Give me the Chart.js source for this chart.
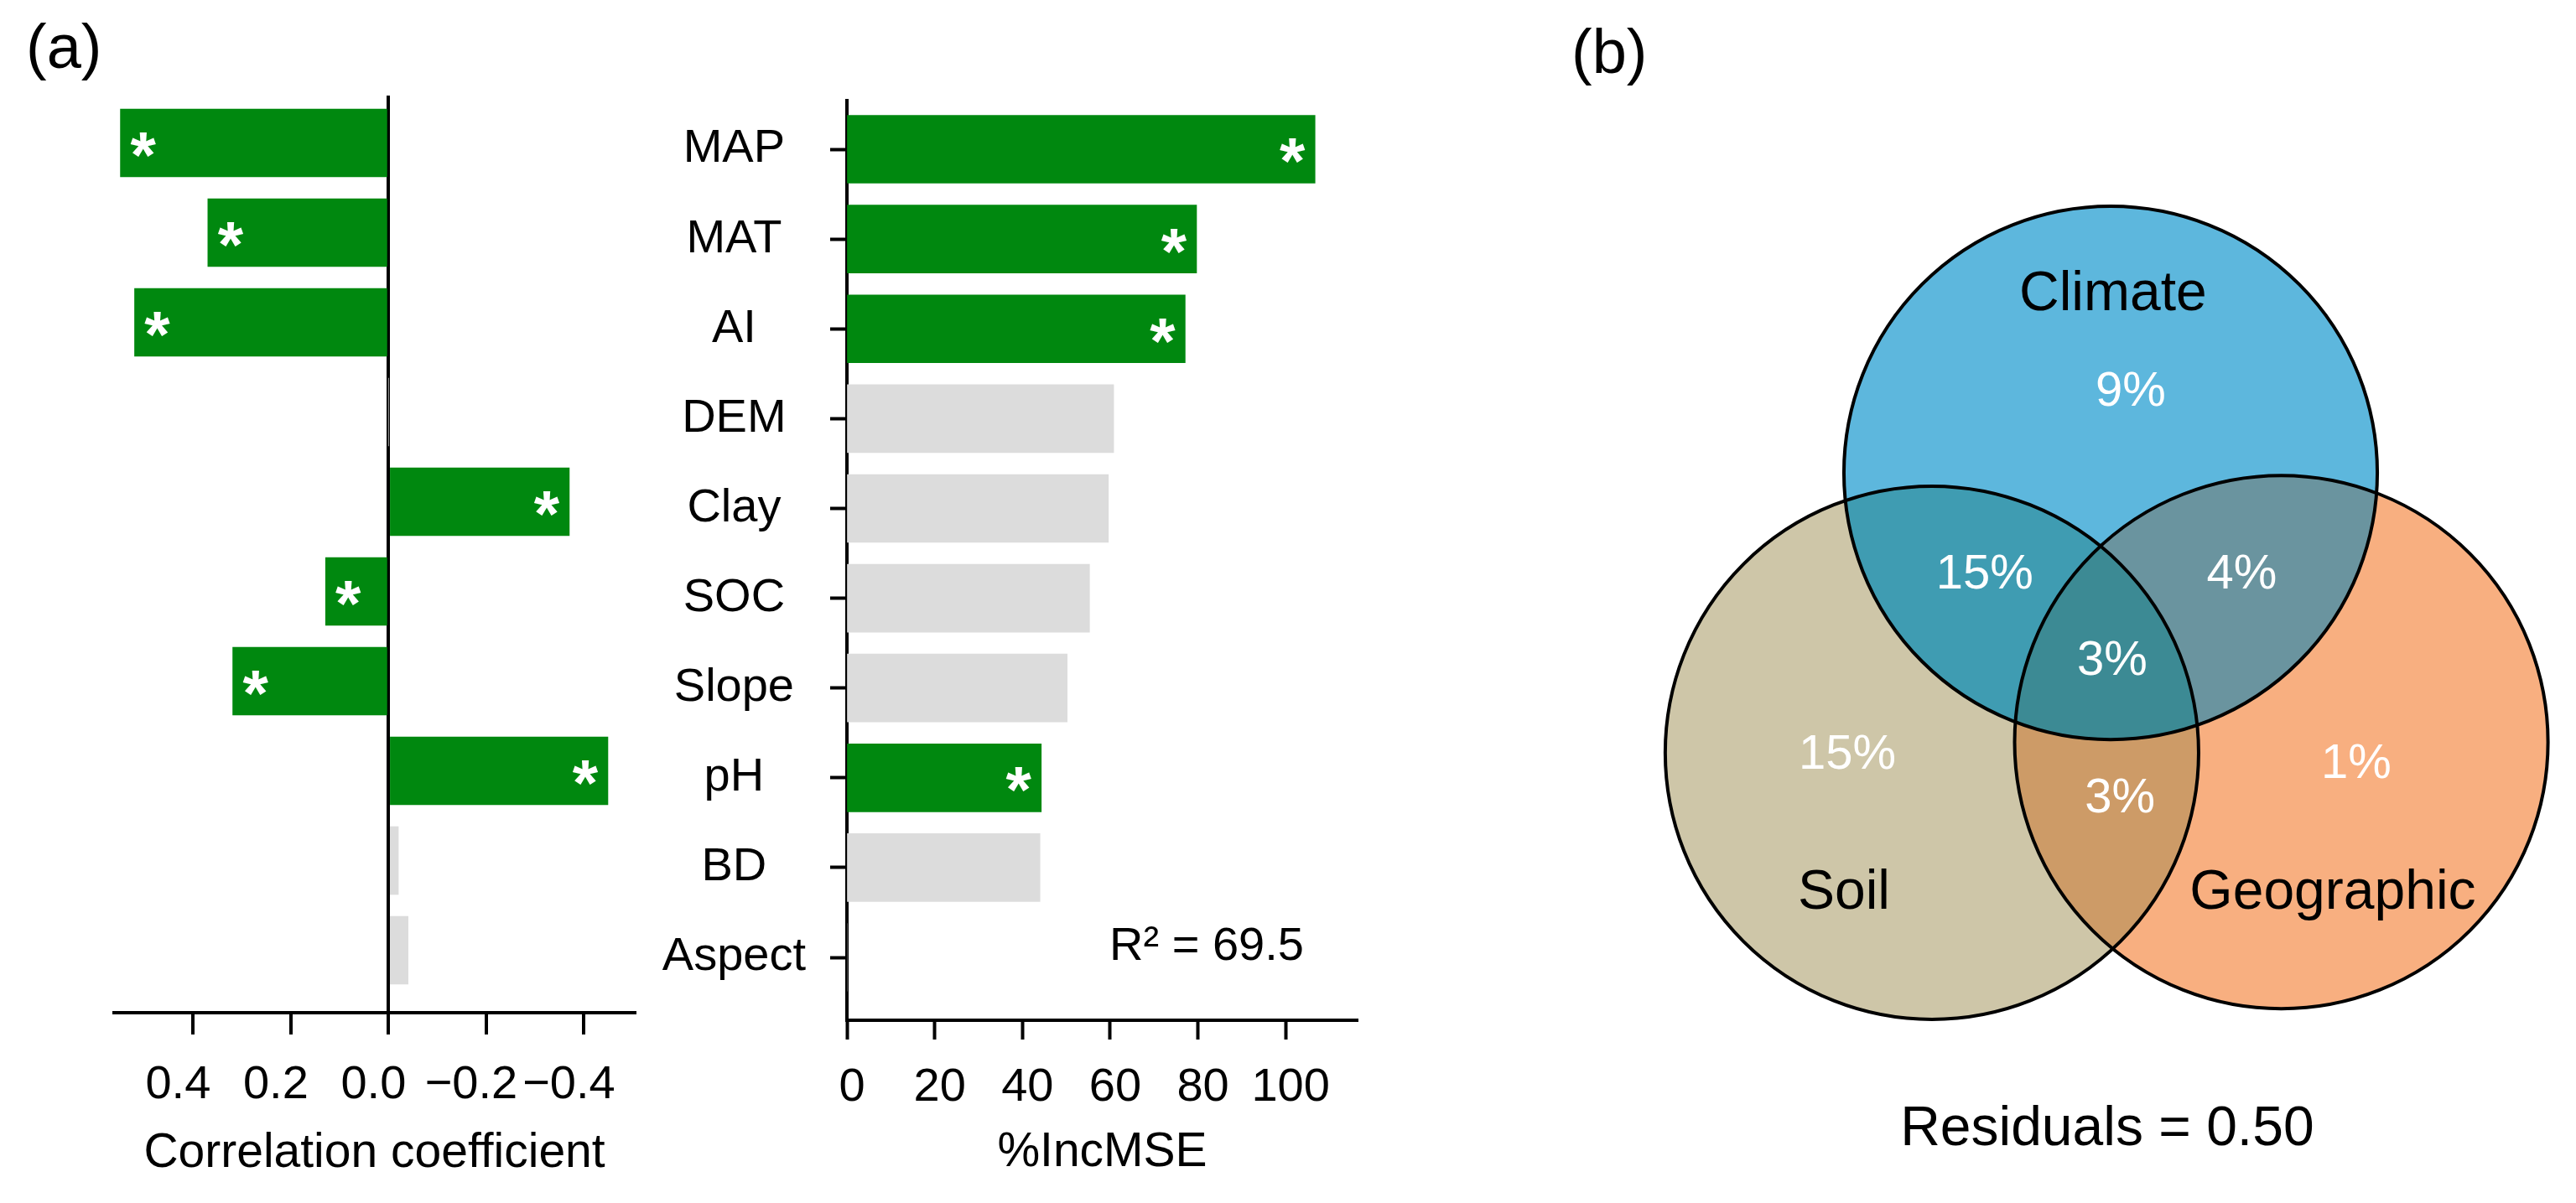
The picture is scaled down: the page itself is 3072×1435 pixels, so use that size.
<!DOCTYPE html>
<html>
<head>
<meta charset="utf-8">
<title>Correlation, %IncMSE and variance partitioning</title>
<script src="https://cdn.jsdelivr.net/npm/chart.js@4.4.1/dist/chart.umd.min.js"></script>
<style>
  html, body { margin: 0; padding: 0; background: #fff; }
  #page { position: relative; width: 3072px; height: 1435px; overflow: hidden;
          font-family: "Liberation Sans", Arial, sans-serif; }
  canvas { position: absolute; top: 0; }
  .panel { position: absolute; font-size: 74px; line-height: 74px; color: #000; }
</style>
</head>
<body>
<div id="page">
  <div class="panel" style="left:31px; top:19px;">(a)</div>
  <div class="panel" style="left:1874px; top:25px;">(b)</div>
  <canvas id="corrChart" width="760" height="1435" style="left:0"></canvas>
  <canvas id="mseChart" width="1140" height="1435" style="left:760px"></canvas>
  <canvas id="vennChart" width="1172" height="1435" style="left:1900px"></canvas>
</div>
<script>
// ---- data ----
const categories = ['MAP', 'MAT', 'AI', 'DEM', 'Clay', 'SOC', 'Slope', 'pH', 'BD', 'Aspect'];
const corrValues = [0.549, 0.370, 0.520, 0.000, -0.370, 0.129, 0.319, -0.449, -0.020, -0.040];
const corrSignificant = [true, true, true, false, true, true, true, true, false, false];
const incMSEValues = [106.7, 79.7, 77.1, 60.8, 59.6, 55.3, 50.2, 44.3, 44.0, 0];
const incMSESignificant = [true, true, true, false, false, false, false, true, false, false];
const corrTicks = [0.4, 0.2, 0, -0.2, -0.4];
const incMSETicks = [0, 20, 40, 60, 80, 100];
const rSquared = 69.5;

// venn: sets drawn in this order, centres in circle-radius units
const vennSets = ['Soil', 'Geographic', 'Climate'];
const vennCenterX = [-0.67, 0.64, 0];
const vennCenterY = [-1.05, -1.01, 0];
const vennRegions = ['Climate', 'Soil', 'Geographic', 'Climate+Soil', 'Climate+Geographic', 'Soil+Geographic', 'All'];
const vennPercents = [9, 15, 1, 15, 4, 3, 3];
const residuals = 0.50;

// ---- styling / layout ----
const FONT = '"Liberation Sans", Arial, sans-serif';
const GREEN = '#00880f';
const GRAY = '#dcdcdc';

// where each venn text sits (same units as the centres)
const regionAnchors = {
  'Climate': [0.075, 0.302],
  'Soil': [-0.987, -1.060],
  'Geographic': [0.921, -1.094],
  'Climate+Soil': [-0.472, -0.384],
  'Climate+Geographic': [0.492, -0.384],
  'Soil+Geographic': [0.035, -1.223],
  'All': [0.006, -0.708]
};
const setLabelAnchors = { 'Climate': [0.009, 0.667], 'Soil': [-1.0, -1.579], 'Geographic': [0.833, -1.579] };
const residualAnchor = [-0.013, -2.465];
const r2Anchor = { x: 82, y: 8.88 };

const regionColors = {
  '0': '#cec6a8', '1': '#f8af80', '2': '#5db7dd',
  '0,1': '#cd9b67', '0,2': '#3f9cb2', '1,2': '#6a949f', '0,1,2': '#3c8a94'
};

const fmtCorr = v => v === 0 ? '0.0' : (v < 0 ? '\u2212' : '') + Math.abs(v).toFixed(1);

function makeAsterisks(flags) {
  return {
    id: 'asterisks',
    afterDatasetsDraw(chart) {
      const ctx = chart.ctx;
      const size = 78;
      ctx.save();
      ctx.fillStyle = '#fff';
      ctx.font = 'bold ' + size + 'px ' + FONT;
      ctx.textAlign = 'center';
      ctx.textBaseline = 'alphabetic';
      chart.getDatasetMeta(0).data.forEach((bar, i) => {
        if (!flags[i]) return;
        const dir = bar.base > bar.x ? 1 : -1;
        ctx.fillText('*', bar.x + dir * 27, bar.y - 3 + 0.57 * size);
      });
      ctx.restore();
    }
  };
}

// fixed axis box, and no extra side padding for edge labels
const fixHeight = h => s => { s.height = h; s.paddingLeft = 0; s.paddingRight = 0; };

const common = {
  responsive: false,
  animation: false,
  events: [],
  indexAxis: 'y',
  plugins: { legend: { display: false }, tooltip: { enabled: false } }
};

// ---- left: correlation coefficient ----
new Chart(document.getElementById('corrChart'), {
  type: 'bar',
  data: {
    datasets: [{
      data: categories.map((c, i) => ({ x: corrValues[i], y: i })),
      backgroundColor: corrSignificant.map(s => s ? GREEN : GRAY),
      borderWidth: 0,
      barThickness: 81
    }]
  },
  options: {
    ...common,
    layout: { padding: { left: 136, top: 114, right: 3, bottom: 0 } },
    scales: {
      x: {
        type: 'linear', reverse: true, min: -0.504, max: 0.562,
        afterBuildTicks: s => { s.ticks = corrTicks.map(v => ({ value: v })); },
        afterFit: fixHeight(227),
        border: { display: true, color: '#000', width: 4 },
        grid: {
          color: c => (c.tick && c.tick.value === 0) ? '#000' : 'rgba(0,0,0,0)',
          lineWidth: 4, tickLength: 26, tickColor: '#000', tickWidth: 4
        },
        ticks: {
          color: '#000', font: { family: FONT, size: 56 }, padding: 27, labelOffset: -18,
          maxRotation: 0, autoSkip: false, callback: v => fmtCorr(v)
        },
        title: {
          display: true, text: 'Correlation coefficient', color: '#000',
          font: { family: FONT, size: 57 }, padding: { top: 0, bottom: 25 }
        }
      },
      y: {
        type: 'linear', reverse: true, min: -0.528, max: 9.696, display: false,
        offset: false, grid: { offset: false }
      }
    }
  },
  plugins: [makeAsterisks(corrSignificant)]
});

// ---- middle: %IncMSE ----
const r2Label = {
  id: 'r2Label',
  afterDatasetsDraw(chart) {
    const { ctx, scales } = chart;
    ctx.save();
    ctx.fillStyle = '#000';
    ctx.font = '56px ' + FONT;
    ctx.textAlign = 'center';
    ctx.textBaseline = 'middle';
    ctx.fillText('R\u00b2 = ' + rSquared.toFixed(1), scales.x.getPixelForValue(r2Anchor.x), scales.y.getPixelForValue(r2Anchor.y));
    ctx.restore();
  }
};

new Chart(document.getElementById('mseChart'), {
  type: 'bar',
  data: {
    datasets: [{
      data: categories.map((c, i) => ({ x: incMSEValues[i], y: i })),
      backgroundColor: incMSESignificant.map(s => s ? GREEN : GRAY),
      borderWidth: 0,
      barThickness: 81
    }]
  },
  options: {
    ...common,
    layout: { padding: { left: 0, top: 120, right: 281, bottom: 0 } },
    scales: {
      x: {
        type: 'linear', min: 0, max: 116.4,
        afterBuildTicks: s => { s.ticks = incMSETicks.map(v => ({ value: v })); },
        afterFit: fixHeight(218),
        border: { display: true, color: '#000', width: 4 },
        grid: { drawOnChartArea: false, tickLength: 23, tickColor: '#000', tickWidth: 4 },
        ticks: {
          color: '#000', font: { family: FONT, size: 56 }, padding: 24, labelOffset: 6,
          maxRotation: 0, autoSkip: false
        },
        title: {
          display: true, text: '%IncMSE', color: '#000',
          font: { family: FONT, size: 57 }, padding: { top: 0, bottom: 26 }
        }
      },
      y: {
        type: 'linear', reverse: true, min: -0.5416, max: 9.70, offset: false,
        afterBuildTicks: s => { s.ticks = categories.map((c, i) => ({ value: i })); },
        afterFit: s => { s.width = 250; },
        border: { display: true, color: '#000', width: 4 },
        grid: { offset: false, drawOnChartArea: false, tickLength: 20, tickColor: '#000', tickWidth: 4 },
        ticks: {
          color: '#000', font: { family: FONT, size: 56 }, padding: 29, crossAlign: 'center',
          autoSkip: false, callback: v => categories[v]
        }
      }
    }
  },
  plugins: [makeAsterisks(incMSESignificant), r2Label]
});

// ---- right: venn diagram ----
const vennFill = {
  id: 'vennFill',
  beforeDatasetsDraw(chart) {
    const ctx = chart.ctx;
    const circles = chart.getDatasetMeta(0).data.map(p => ({ x: p.x, y: p.y, r: p.options.radius }));
    const path = c => { ctx.beginPath(); ctx.arc(c.x, c.y, c.r, 0, Math.PI * 2); };
    const paint = (clipIdx, fillIdx, key) => {
      ctx.save();
      clipIdx.forEach(i => { path(circles[i]); ctx.clip(); });
      path(circles[fillIdx]);
      ctx.fillStyle = regionColors[key];
      ctx.fill();
      ctx.restore();
    };
    [0, 1, 2].forEach(i => paint([], i, String(i)));
    paint([0], 1, '0,1');
    paint([0], 2, '0,2');
    paint([1], 2, '1,2');
    paint([0, 1], 2, '0,1,2');
  }
};

const vennText = {
  id: 'vennText',
  afterDatasetsDraw(chart) {
    const { ctx, scales } = chart;
    const at = a => [scales.x.getPixelForValue(a[0]), scales.y.getPixelForValue(a[1])];
    ctx.save();
    ctx.textAlign = 'center';
    ctx.textBaseline = 'middle';
    ctx.fillStyle = '#fff';
    ctx.font = '58px ' + FONT;
    vennRegions.forEach((r, i) => {
      const [x, y] = at(regionAnchors[r]);
      ctx.fillText(vennPercents[i] + '%', x, y);
    });
    ctx.fillStyle = '#000';
    ctx.font = '66px ' + FONT;
    vennSets.forEach(s => {
      const [x, y] = at(setLabelAnchors[s]);
      ctx.fillText(s, x, y);
    });
    const [rx, ry] = at(residualAnchor);
    ctx.fillText('Residuals = ' + residuals.toFixed(2), rx, ry);
    ctx.restore();
  }
};

const unitPx = chart => {
  const xs = chart.scales.x;
  const d = xs ? xs.getPixelForValue(1) - xs.getPixelForValue(0) : 0;
  return isFinite(d) ? d : 0;
};

new Chart(document.getElementById('vennChart'), {
  type: 'scatter',
  data: {
    datasets: [{
      data: vennSets.map((s, i) => ({ x: vennCenterX[i], y: vennCenterY[i] })),
      pointRadius: ctx => unitPx(ctx.chart),
      pointBackgroundColor: 'rgba(0,0,0,0)',
      pointBorderColor: '#000',
      pointBorderWidth: 4,
      clip: false
    }]
  },
  options: {
    responsive: false,
    animation: false,
    events: [],
    layout: { padding: 0 },
    plugins: { legend: { display: false }, tooltip: { enabled: false } },
    scales: {
      x: { type: 'linear', min: -1.940, max: 1.745, display: false },
      y: { type: 'linear', min: -2.739, max: 1.774, display: false }
    }
  },
  plugins: [vennFill, vennText]
});
</script>
</body>
</html>
